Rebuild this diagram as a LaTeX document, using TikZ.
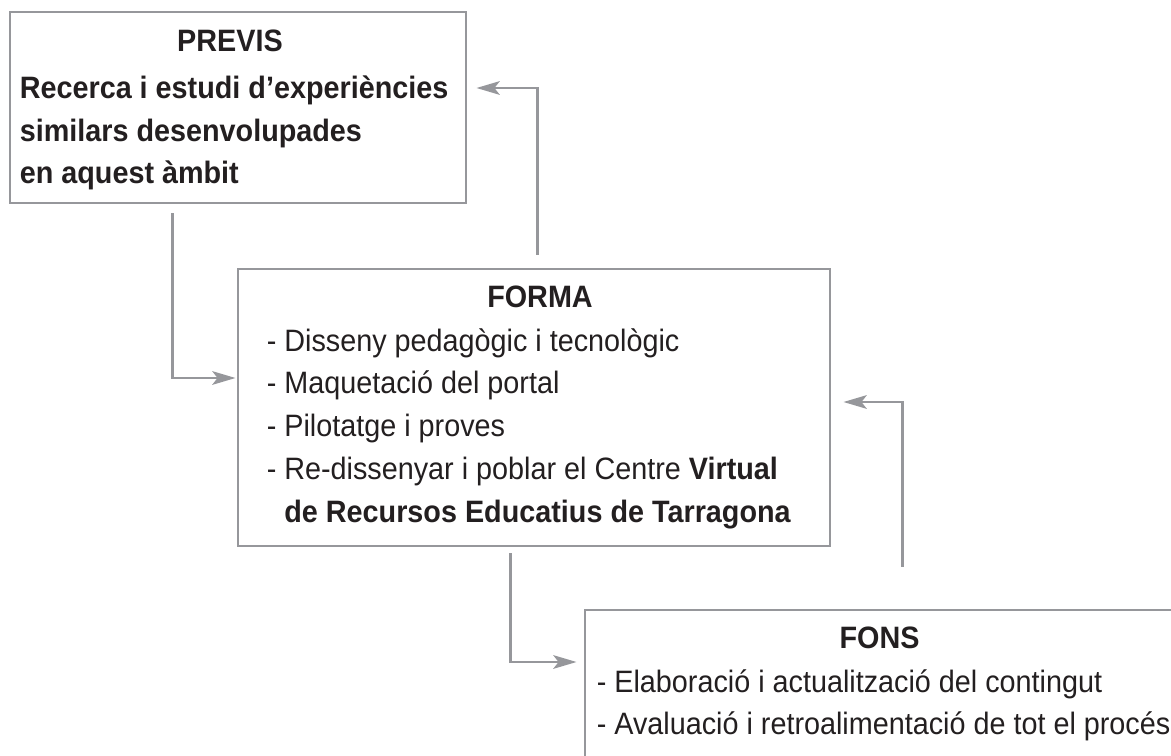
\documentclass[tikz,border=0pt]{standalone}
\usepackage{fontspec}
\setmainfont{Liberation Sans}[FakeStretch=0.93]
\usepackage{tikz}
\usetikzlibrary{arrows.meta}
\usetikzlibrary{positioning}

\definecolor{boxgray}{RGB}{150,151,155}
\definecolor{inkblack}{RGB}{35,31,32}

\begin{document}
\begin{tikzpicture}[x=0.025cm,y=-0.025cm,>={Stealth[length=5.8mm,width=3.4mm,inset=1.3mm]},
  box node/.style={rectangle,draw=boxgray,line width=2pt,inner sep=0pt},
  title node/.style={anchor=base,inner sep=0pt,text=inkblack,font=\fontsize{22}{30}\selectfont\bfseries},
  text node/.style={align=left,inner sep=0pt,text=inkblack,font=\fontsize{22}{30.5}\selectfont},
  flow/.style={->,draw=boxgray,line width=1.8pt}]

  \useasboundingbox (0,0) rectangle (1171,756);
  \clip (0,0) rectangle (1171,756);

  % boxes
  \node[box node,minimum width=11.4cm,minimum height=4.775cm] (previs) at (238,107.5) {};
  \node[box node,minimum width=14.8cm,minimum height=6.925cm] (forma) at (534,407.5) {};
  \node[box node,minimum width=15.125cm,minimum height=4.5cm] (fons) at (887.5,700) {};

  % titles
  \node[title node] (previs t) at ([shift={(-8,41)}]previs.north) {PREVIS};
  \node[title node] (forma t) at ([shift={(6,40)}]forma.north) {FORMA};
  \node[title node] (fons t) at ([shift={(296,40)}]fons.north west) {FONS};

  % texts
  \node[text node,font=\fontsize{22}{30}\selectfont\bfseries,anchor=north west]
    (previs a) [below right=1.635cm and 0.275cm of previs.north west]
    {Recerca i estudi d’experiències\\similars desenvolupades\\en aquest àmbit};
  \node[text node,anchor=north west] (forma a) [below right=1.51cm and 0.75cm of forma.north west]
    {- Disseny pedagògic i tecnològic\\- Maquetació del portal\\- Pilotatge i proves\\
     - Re-dissenyar i poblar el Centre \textbf{Virtual}\\
     \phantom{- }\textbf{de Recursos Educatius de Tarragona}};
  \node[text node,anchor=north west] (fons a) [below right=1.51cm and 0.325cm of fons.north west]
    {- Elaboració i actualització del contingut\\- Avaluació i retroalimentació de tot el procés};

  % connectors
  \coordinate (p1) at ([shift={(164,9)}]previs.south west);
  \coordinate (p2) at ([shift={(301,-13)}]forma.north west);
  \coordinate (p3) at ([shift={(274,6)}]forma.south west);
  \coordinate (p4) at ([shift={(319,-42)}]fons.north west);

  \draw[flow] (p1) |- ([shift={(-1,-29.5)}]forma.west);
  \draw[flow] (p2) |- ([shift={(9,-19.5)}]previs.east);
  \draw[flow] (p3) |- ([shift={(-7,-38)}]fons.west);
  \draw[flow] (p4) |- ([shift={(12,-5.5)}]forma.east);

\end{tikzpicture}
\end{document}
